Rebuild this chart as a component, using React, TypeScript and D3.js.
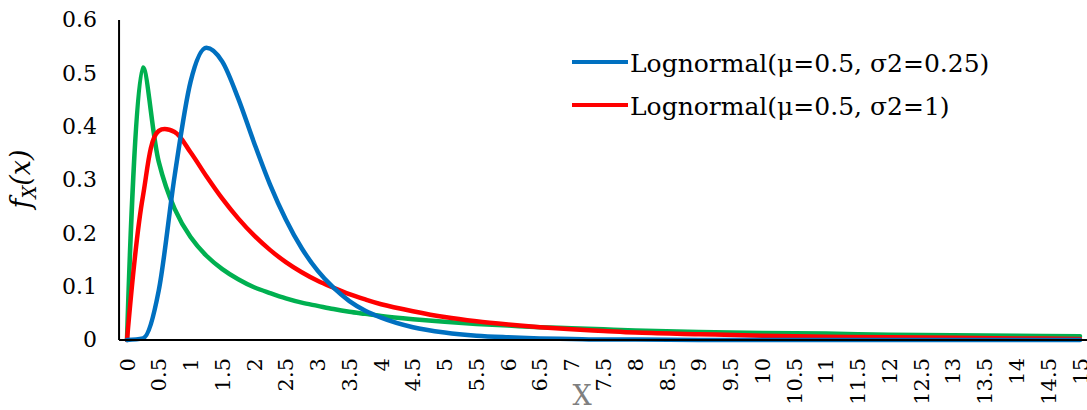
import React from 'react'
import * as d3 from 'd3'

// x positions of the sampled points
const xValues = [
  0, 0.25, 0.5, 0.75, 1, 1.25, 1.5, 1.75, 2, 2.25, 2.5, 2.75, 3, 3.25, 3.5, 3.75, 4,
  4.5, 5, 5.5, 6, 6.5, 7, 7.5, 8, 9, 10, 11, 12, 13, 14, 15,
]

// Lognormal(μ=0.5, σ2=0.25)
const blueValues = [
  0, 0.003, 0.093, 0.308, 0.484, 0.548, 0.522, 0.453, 0.37, 0.292, 0.226, 0.172, 0.13,
  0.098, 0.073, 0.055, 0.042, 0.024, 0.014, 0.008, 0.005, 0.003, 0.002, 0.001, 0.001,
  0, 0, 0, 0, 0, 0, 0,
]

// Lognormal(μ=0.5, σ2=1)
const redValues = [
  0, 0.269, 0.392, 0.39, 0.352, 0.307, 0.265, 0.228, 0.196, 0.169, 0.146, 0.127, 0.111,
  0.098, 0.086, 0.076, 0.067, 0.054, 0.043, 0.035, 0.029, 0.024, 0.02, 0.017, 0.014,
  0.011, 0.008, 0.006, 0.005, 0.004, 0.003, 0.002,
]

// third curve, no legend entry
const greenValues = [
  0, 0.511, 0.334, 0.246, 0.193, 0.158, 0.133, 0.114, 0.099, 0.088, 0.078, 0.07, 0.064,
  0.058, 0.053, 0.049, 0.045, 0.039, 0.034, 0.03, 0.027, 0.024, 0.022, 0.02, 0.018,
  0.015, 0.013, 0.012, 0.01, 0.009, 0.008, 0.007,
]

const legendLabels = ['Lognormal(μ=0.5, σ2=0.25)', 'Lognormal(μ=0.5, σ2=1)']

const xTickLabels = d3.range(0, 31).map((i) => i / 2)
const yTickLabels = [0, 0.1, 0.2, 0.3, 0.4, 0.5, 0.6]

const width = 1087
const height = 410
// Liberation Serif did not load here, DejaVu Serif does
const font = "'DejaVu Serif', serif"

const x = d3.scaleLinear().domain([0, 15]).range([127, 1080])
const y = d3.scaleLinear().domain([0, 0.6]).range([340, 20])

const series = [
  { values: greenValues, color: '#00B050', curve: d3.curveCatmullRom.alpha(0.5) },
  { values: redValues, color: '#FF0000', curve: d3.curveCatmullRom.alpha(0.5) },
  { values: blueValues, color: '#0070C0', curve: d3.curveMonotoneX },
]

const legend = [
  { label: legendLabels[0], color: '#0070C0' },
  { label: legendLabels[1], color: '#FF0000' },
]

const fmt = d3.format('~g')
const txt = { fontFamily: font }

const App = () => {
  const half = 0.125
  return (
    <svg
      width={width}
      height={height}
      style={{ position: 'absolute', left: 0, top: 0, background: '#fff', fontFamily: font }}
    >
      {/* y tick labels */}
      {yTickLabels.map((t) => (
        <text key={t} x={97} y={y(t)} dy="0.33em" textAnchor="end" fontSize={22} fill="#000" style={txt}>
          {fmt(t)}
        </text>
      ))}

      {/* x tick labels, rotated */}
      {xTickLabels.map((t) => (
        <text
          key={t}
          transform={`translate(${x(t) + 7.5},358) rotate(-90)`}
          textAnchor="end"
          fontSize={21}
          fill="#000"
          style={txt}
        >
          {fmt(t)}
        </text>
      ))}

      {/* curves */}
      {series.map((s, i) => {
        const line = d3
          .line<number>()
          .x((d, j) => x(xValues[j]))
          .y((d) => y(d))
          .curve(s.curve)
        return (
          <path
            key={i}
            d={line(s.values) || ''}
            fill="none"
            stroke={s.color}
            strokeWidth={4.5}
            strokeLinejoin="round"
            strokeLinecap="round"
          />
        )
      })}

      {/* axes */}
      <line x1={x(-half)} x2={x(-half)} y1={y(0.6)} y2={y(0)} stroke="#000" strokeWidth={2} />
      <line x1={x(-half)} x2={x(15 + half)} y1={y(0)} y2={y(0)} stroke="#000" strokeWidth={2} />

      {/* legend */}
      {legend.map((l, i) => (
        <g key={l.label} transform={`translate(572,${62 + i * 43})`}>
          <line x1={0} x2={56} y1={0} y2={0} stroke={l.color} strokeWidth={4} />
          <text x={58} y={10} fontSize={25} fill="#000" style={txt}>
            {l.label}
          </text>
        </g>
      ))}

      {/* axis titles */}
      <text x={582} y={405} textAnchor="middle" fontSize={27} fill="#7F7F7F" style={txt}>
        X
      </text>
      <text
        transform="translate(30,179) rotate(-90)"
        textAnchor="middle"
        fontSize={27}
        fontStyle="italic"
        fill="#000"
        style={txt}
      >
        <tspan>f</tspan>
        <tspan fontSize={18} dy={6}>
          X
        </tspan>
        <tspan dy={-6}>(x)</tspan>
      </text>
    </svg>
  )
}

export default App
